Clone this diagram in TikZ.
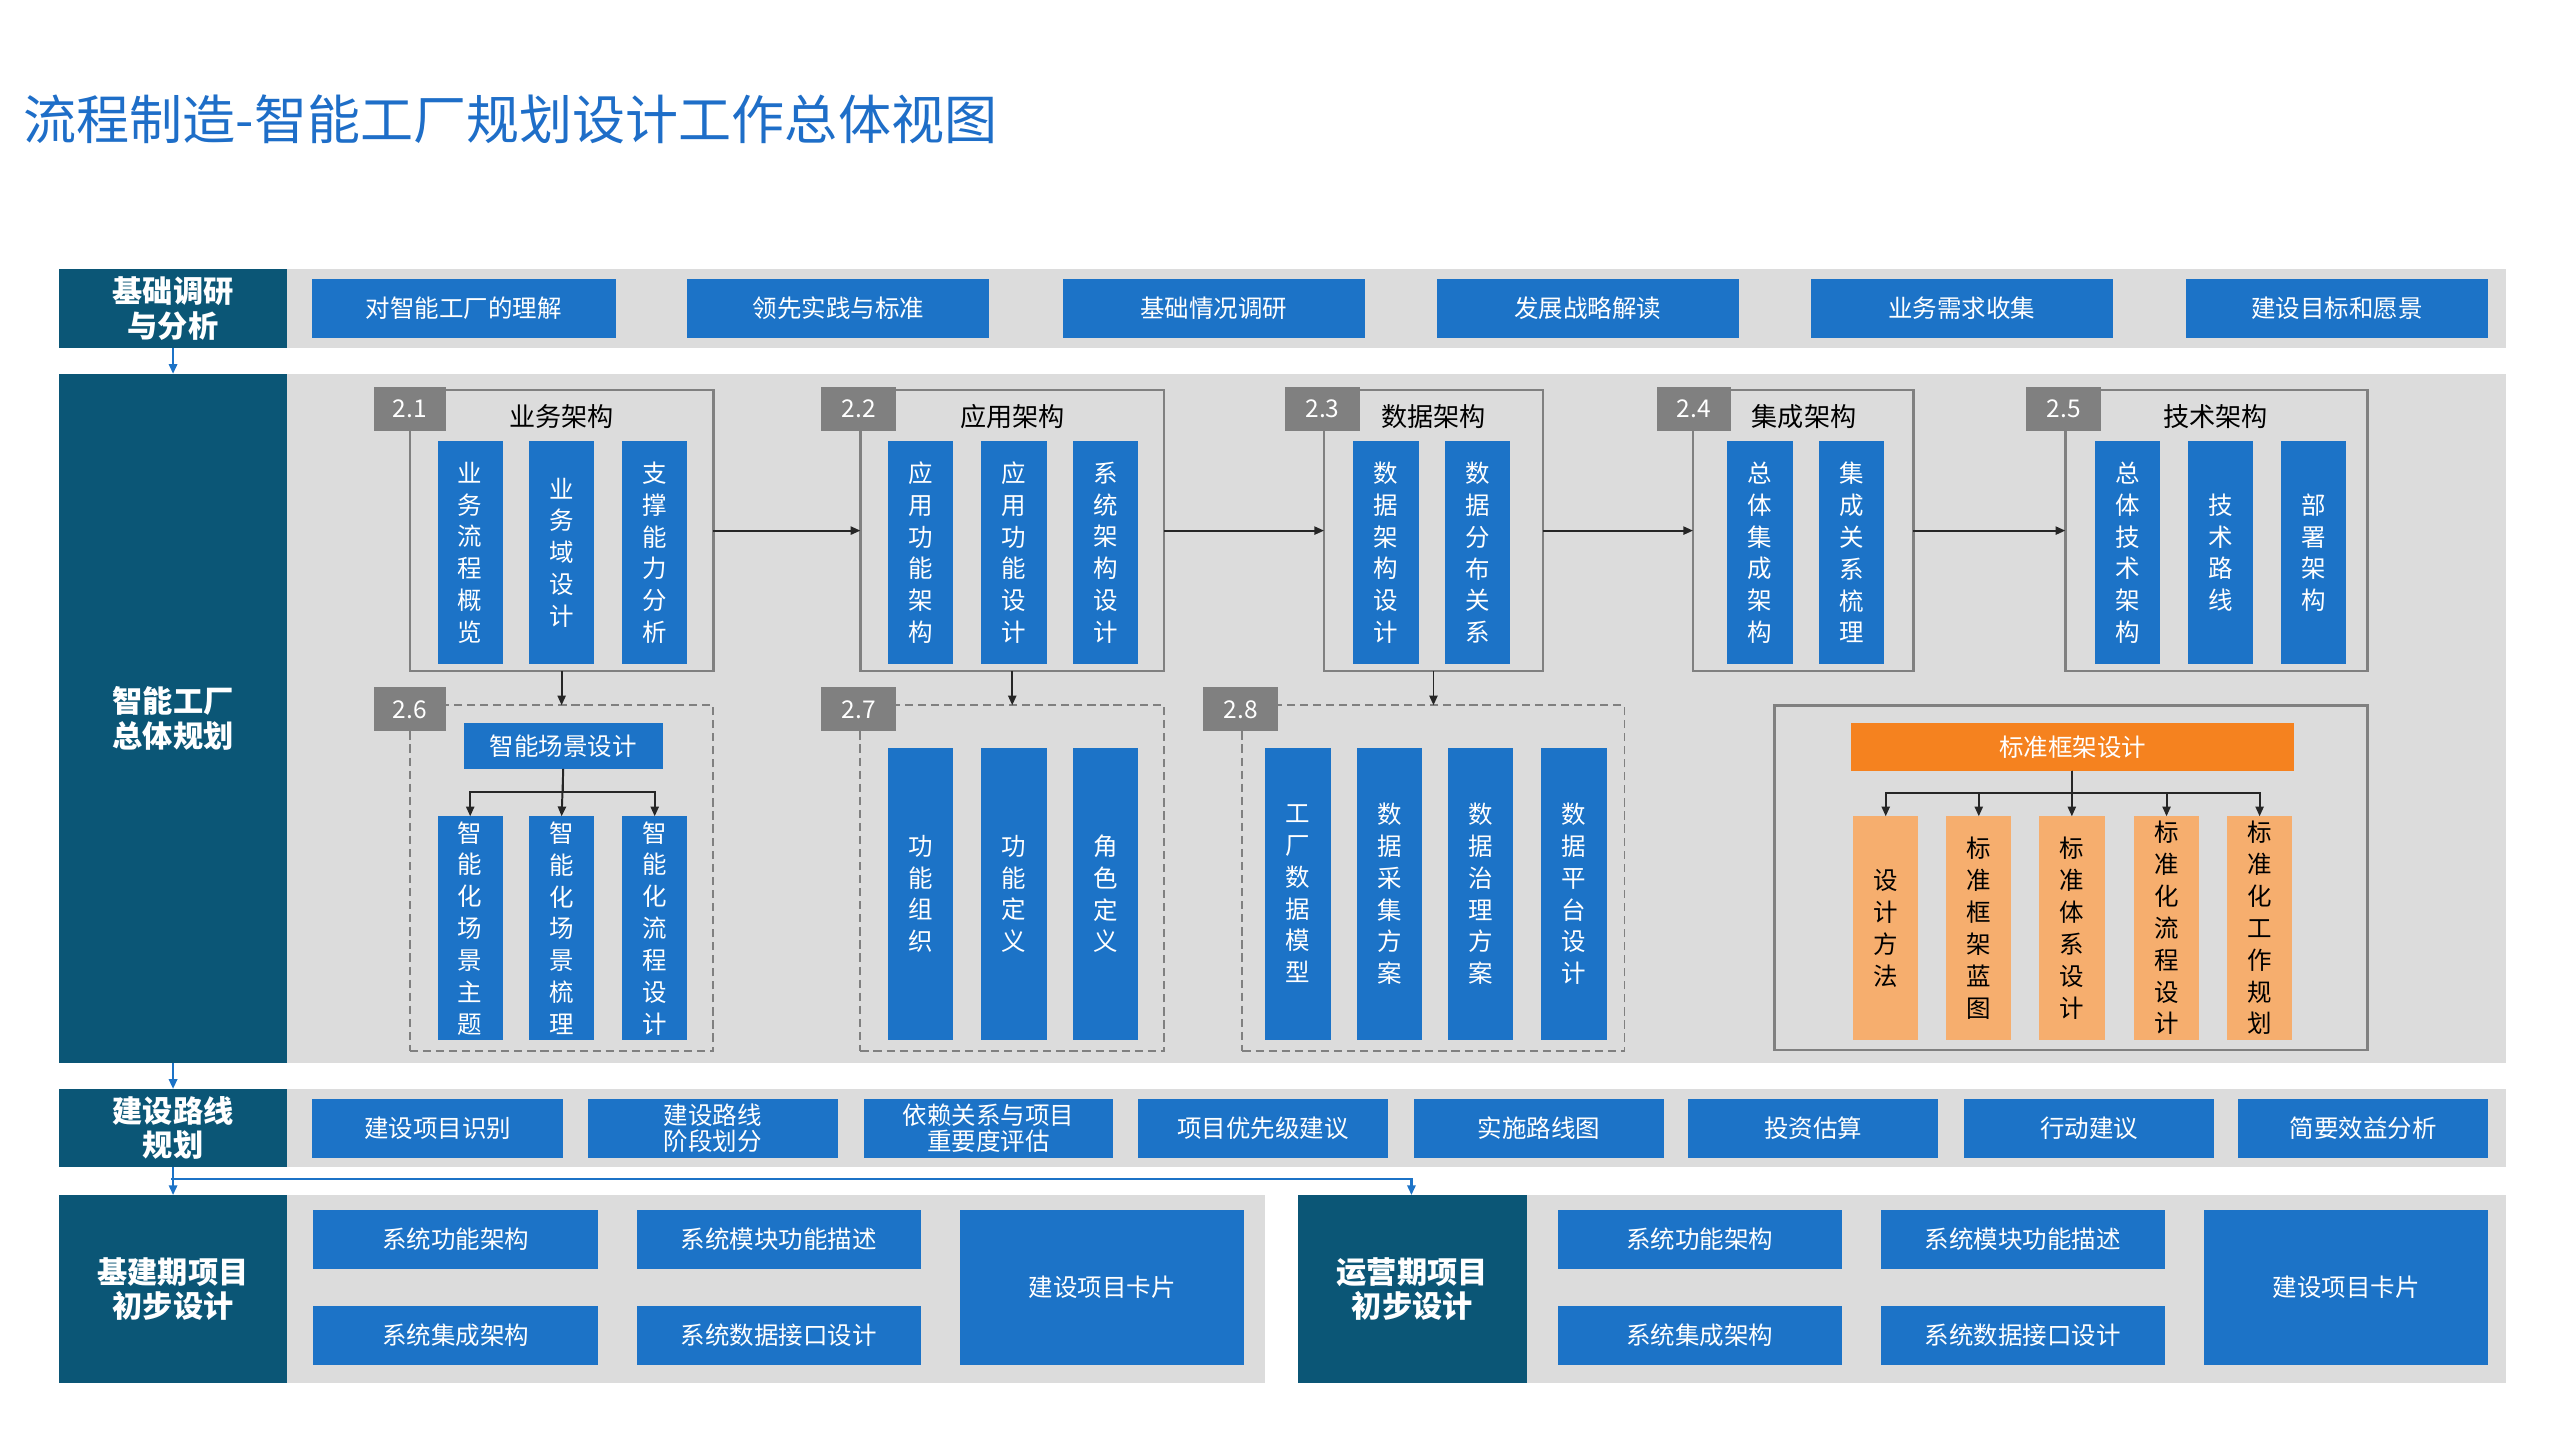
\documentclass[tikz,border=0pt]{standalone}
\usepackage{fontspec}
\setmainfont{Noto Sans CJK SC}
\usetikzlibrary{arrows.meta}
\definecolor{dk}{HTML}{0B5676}
\definecolor{bl}{HTML}{1C73C7}
\definecolor{bandc}{HTML}{DCDCDC}
\definecolor{tabc}{HTML}{808080}
\definecolor{org}{HTML}{F5821F}
\definecolor{lorg}{HTML}{F6AE6E}
\definecolor{ttl}{HTML}{1E6EC8}
\tikzset{
 base/.style={inner sep=0pt,outer sep=0pt,anchor=north west,align=center},
 dark/.style={base,fill=dk,text=white,font=\fontsize{18.5}{21}\selectfont\bfseries},
 blue/.style={base,fill=bl,text=white,font=\fontsize{15}{16}\selectfont},
 orange/.style={base,fill=org,text=white,font=\fontsize{15}{16}\selectfont},
 col/.style={base,fill=bl,text=white,font=\fontsize{15}{19.5}\selectfont},
 ocol/.style={base,fill=lorg,text=black,font=\fontsize{15}{19.5}\selectfont},
 band/.style={base,fill=bandc},
 frame/.style={base,draw=tabc,line width=1.5pt},
 dframe/.style={base,draw=tabc,line width=1.2pt,dash pattern=on 5pt off 3pt},
 tab/.style={base,fill=tabc,text=white,font=\fontsize{15}{16}\selectfont},
 ttext/.style={font=\fontsize{16}{18}\selectfont,text=black},
 arr/.style={-{Triangle[length=6pt,width=5pt]},line width=1.2pt,draw=black!85},
 barr/.style={-{Triangle[length=6pt,width=5pt]},line width=1.5pt,draw=bl},
}
\newcommand\B[7]{\node[#1,minimum width={(#5-#3)*1pt},minimum height={(#6-#4)*1pt}] (#2) at (#3,#4) {#7};}
\begin{document}
\begin{tikzpicture}[x=1pt,y=-1pt]
\useasboundingbox (0,0) rectangle (1568,882);
\fill[white] (0,0) rectangle (1568,882);
\node[anchor=west,text=ttl,font=\fontsize{32.5}{35}\selectfont] (title) at (11,73) {流程制造-智能工厂规划设计工作总体视图};
% row 1
\B{band}{b1}{176}{165}{1535}{213}{}
\B{dark}{r1}{36}{165}{176}{213}{基础调研\\与分析}
\B{blue}{a1}{191}{171}{377}{207}{对智能工厂的理解}
\B{blue}{a2}{421}{171}{606}{207}{领先实践与标准}
\B{blue}{a3}{651}{171}{836}{207}{基础情况调研}
\B{blue}{a4}{880}{171}{1065}{207}{发展战略解读}
\B{blue}{a5}{1109}{171}{1294}{207}{业务需求收集}
\B{blue}{a6}{1339}{171}{1524}{207}{建设目标和愿景}
% row 2
\B{band}{b2}{176}{229}{1535}{651}{}
\B{dark}{r2}{36}{229}{176}{651}{智能工厂\\总体规划}
\draw[barr] (r1.south) -- (r2.north);
\B{frame}{g1}{251}{239}{437}{411}{}
\B{frame}{g2}{527}{239}{713}{411}{}
\B{frame}{g3}{811}{239}{945}{411}{}
\B{frame}{g4}{1037}{239}{1172}{411}{}
\B{frame}{g5}{1265}{239}{1450}{411}{}
\B{tab}{t1}{229}{237}{273}{264}{2.1}
\B{tab}{t2}{503}{237}{549}{264}{2.2}
\B{tab}{t3}{787}{237}{833}{264}{2.3}
\B{tab}{t4}{1015}{237}{1060}{264}{2.4}
\B{tab}{t5}{1241}{237}{1287}{264}{2.5}
\node[ttext] (h1) at (344,255) {业务架构};
\node[ttext] (h2) at (620,255) {应用架构};
\node[ttext] (h3) at (878,255) {数据架构};
\node[ttext] (h4) at (1105,255) {集成架构};
\node[ttext] (h5) at (1357,255) {技术架构};
\B{col}{c11}{268}{270}{308}{407}{业\\务\\流\\程\\概\\览}
\B{col}{c12}{324}{270}{364}{407}{业\\务\\域\\设\\计}
\B{col}{c13}{381}{270}{421}{407}{支\\撑\\能\\力\\分\\析}
\B{col}{c21}{544}{270}{584}{407}{应\\用\\功\\能\\架\\构}
\B{col}{c22}{601}{270}{641}{407}{应\\用\\功\\能\\设\\计}
\B{col}{c23}{657}{270}{697}{407}{系\\统\\架\\构\\设\\计}
\B{col}{c31}{829}{270}{869}{407}{数\\据\\架\\构\\设\\计}
\B{col}{c32}{885}{270}{925}{407}{数\\据\\分\\布\\关\\系}
\B{col}{c41}{1058}{270}{1098}{407}{总\\体\\集\\成\\架\\构}
\B{col}{c42}{1114}{270}{1154}{407}{集\\成\\关\\系\\梳\\理}
\B{col}{c51}{1283}{270}{1323}{407}{总\\体\\技\\术\\架\\构}
\B{col}{c52}{1340}{270}{1380}{407}{技\\术\\路\\线}
\B{col}{c53}{1397}{270}{1437}{407}{部\\署\\架\\构}
\draw[arr] (g1.east) -- (g2.west);
\draw[arr] (g2.east) -- (g3.west);
\draw[arr] (g3.east) -- (g4.west);
\draw[arr] (g4.east) -- (g5.west);
\B{dframe}{g6}{251}{432}{437}{644}{}
\B{dframe}{g7}{527}{432}{713}{644}{}
\B{dframe}{g8}{761}{432}{995}{644}{}
\B{frame}{g9}{1087}{432}{1450}{643}{}
\B{tab}{t6}{229}{421}{273}{448}{2.6}
\B{tab}{t7}{503}{421}{549}{448}{2.7}
\B{tab}{t8}{737}{421}{783}{448}{2.8}
\draw[arr] (g1.south) -- (g6.north);
\draw[arr] (g2.south) -- (g7.north);
\draw[arr] (g3.south) -- (g8.north-|g3.south);
\B{blue}{sc}{284}{443}{406}{471}{智能场景设计}
\B{col}{c61}{268}{500}{308}{637}{智\\能\\化\\场\\景\\主\\题}
\B{col}{c62}{324}{500}{364}{637}{智\\能\\化\\场\\景\\梳\\理}
\B{col}{c63}{381}{500}{421}{637}{智\\能\\化\\流\\程\\设\\计}
\draw[arr] (sc.south) -- ++(0,14) -| (c61.north);
\draw[arr] (sc.south) -- (c62.north);
\draw[arr] (sc.south) -- ++(0,14) -| (c63.north);
\B{col}{c71}{544}{458}{584}{637}{功\\能\\组\\织}
\B{col}{c72}{601}{458}{641}{637}{功\\能\\定\\义}
\B{col}{c73}{657}{458}{697}{637}{角\\色\\定\\义}
\B{col}{c81}{775}{458}{815}{637}{工\\厂\\数\\据\\模\\型}
\B{col}{c82}{831}{458}{871}{637}{数\\据\\采\\集\\方\\案}
\B{col}{c83}{887}{458}{927}{637}{数\\据\\治\\理\\方\\案}
\B{col}{c84}{944}{458}{984}{637}{数\\据\\平\\台\\设\\计}
\B{orange}{std}{1134}{443}{1405}{472}{标准框架设计}
\B{ocol}{o1}{1135}{500}{1175}{637}{设\\计\\方\\法}
\B{ocol}{o2}{1192}{500}{1232}{637}{标\\准\\框\\架\\蓝\\图}
\B{ocol}{o3}{1249}{500}{1289}{637}{标\\准\\体\\系\\设\\计}
\B{ocol}{o4}{1307}{500}{1347}{637}{标\\准\\化\\流\\程\\设\\计}
\B{ocol}{o5}{1364}{500}{1404}{637}{标\\准\\化\\工\\作\\规\\划}
\draw[arr] (std.south-|o3.north) -- ++(0,14) -| (o1.north);
\draw[arr] (std.south-|o3.north) -- ++(0,14) -| (o2.north);
\draw[arr] (std.south-|o3.north) -- (o3.north);
\draw[arr] (std.south-|o3.north) -- ++(0,14) -| (o4.north);
\draw[arr] (std.south-|o3.north) -- ++(0,14) -| (o5.north);
% row 3
\B{band}{b3}{176}{667}{1535}{715}{}
\B{dark}{r3}{36}{667}{176}{715}{建设路线\\规划}
\draw[barr] (r2.south) -- (r3.north);
\B{blue}{p1}{191}{673}{345}{709}{建设项目识别}
\B{blue}{p2}{360}{673}{513}{709}{建设路线\\阶段划分}
\B{blue}{p3}{529}{673}{682}{709}{依赖关系与项目\\重要度评估}
\B{blue}{p4}{697}{673}{850}{709}{项目优先级建议}
\B{blue}{p5}{866}{673}{1019}{709}{实施路线图}
\B{blue}{p6}{1034}{673}{1187}{709}{投资估算}
\B{blue}{p7}{1203}{673}{1356}{709}{行动建议}
\B{blue}{p8}{1371}{673}{1524}{709}{简要效益分析}
% row 4
\B{band}{b4}{176}{732}{775}{847}{}
\B{band}{b5}{935}{732}{1535}{847}{}
\B{dark}{r4}{36}{732}{176}{847}{基建期项目\\初步设计}
\B{dark}{r5}{795}{732}{935}{847}{运营期项目\\初步设计}
\draw[barr] (r3.south) -- (r4.north);
\coordinate (split) at (105,722);
\draw[barr] (split) -| ([xshift=-0.5pt]r5.north);
\B{blue}{d1}{192}{741}{366}{777}{系统功能架构}
\B{blue}{d2}{390}{741}{564}{777}{系统模块功能描述}
\B{blue}{d3}{192}{800}{366}{836}{系统集成架构}
\B{blue}{d4}{390}{800}{564}{836}{系统数据接口设计}
\B{blue}{d5}{588}{741}{762}{836}{建设项目卡片}
\B{blue}{e1}{954}{741}{1128}{777}{系统功能架构}
\B{blue}{e2}{1152}{741}{1326}{777}{系统模块功能描述}
\B{blue}{e3}{954}{800}{1128}{836}{系统集成架构}
\B{blue}{e4}{1152}{800}{1326}{836}{系统数据接口设计}
\B{blue}{e5}{1350}{741}{1524}{836}{建设项目卡片}
\end{tikzpicture}
\end{document}
